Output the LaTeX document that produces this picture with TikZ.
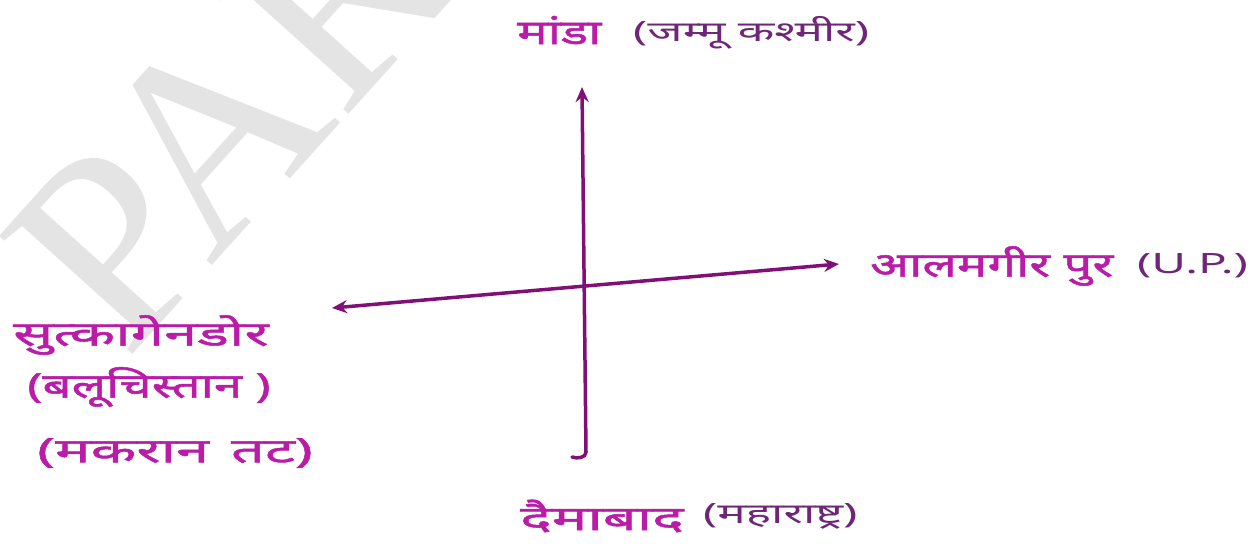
\documentclass[tikz,border=0pt]{standalone}
\usepackage{fontspec}
\setmainfont{Liberation Serif}
\newfontfamily\hindiplace[Script=Devanagari, FakeStretch=1.5, FakeBold=1.5]{Noto Sans}
\newfontfamily\hindiwide[Script=Devanagari, FakeStretch=1.75, FakeBold=1.5]{Noto Sans}
\newfontfamily\hindiregion[Script=Devanagari, FakeStretch=1.7]{Noto Sans}
\usetikzlibrary{arrows.meta}

\definecolor{ink}{RGB}{186,28,168}
\definecolor{inkdark}{RGB}{112,38,120}
\definecolor{pen}{RGB}{128,16,118}
\definecolor{wmark}{RGB}{228,228,228}

\begin{document}
\begin{tikzpicture}[x=1pt, y=-1pt,
    >={Stealth[length=15pt, width=13pt]},
    place/.style={inner sep=0pt, anchor=west, text=ink,
                  font=\hindiplace\fontsize{34}{40}\selectfont},
    wideplace/.style={place, font=\hindiwide\fontsize{34}{40}\selectfont},
    region/.style={inner sep=0pt, anchor=west, text=inkdark,
                   font=\hindiregion\fontsize{28}{32}\selectfont},
    axis/.style={draw=pen, line width=3.5pt, line cap=round}]
  \useasboundingbox (0,0) rectangle (1256,552);
  \clip (0,0) rectangle (1256,552);

  % watermark
  \node[rotate=48, anchor=base west, inner sep=0pt, text=wmark,
        font=\fontsize{272}{272}\selectfont] (mark) at (126,362) {PAR};

  % end points of the two axes
  \coordinate (north) at (582,87);
  \coordinate (south) at (586,452);
  \coordinate (hook)  at (572,457);
  \coordinate (west)  at (332,308);
  \coordinate (east)  at (839,264);

  \draw[axis, ->] (hook) to[out=-20, in=-90] (south) -- (north);
  \draw[axis, <->] (west) -- (east);

  % sites
  \node[place]  (manda) at (517,30)  {मांडा};
  \node[region] (jk)    at (633,33)  {(जम्मू कश्मीर)};

  \node[place]  (alam)  at (870,266) {आलमगीर पुर};
  \node[region] (up)    at (1137,266) {(U.P.)};

  \node[wideplace] (sutka) at (13,335)  {सुत्कागेनडोर};
  \node[place]     (balu)  at (27,387)  {(बलूचिस्तान )};
  \node[wideplace] (makr)  at (37,453)  {(मकरान\hspace{22pt}तट)};

  \node[wideplace] (daima) at (520,516) {दैमाबाद};
  \node[region]    (maha)  at (703,516) {(महाराष्ट्र)};
\end{tikzpicture}
\end{document}
